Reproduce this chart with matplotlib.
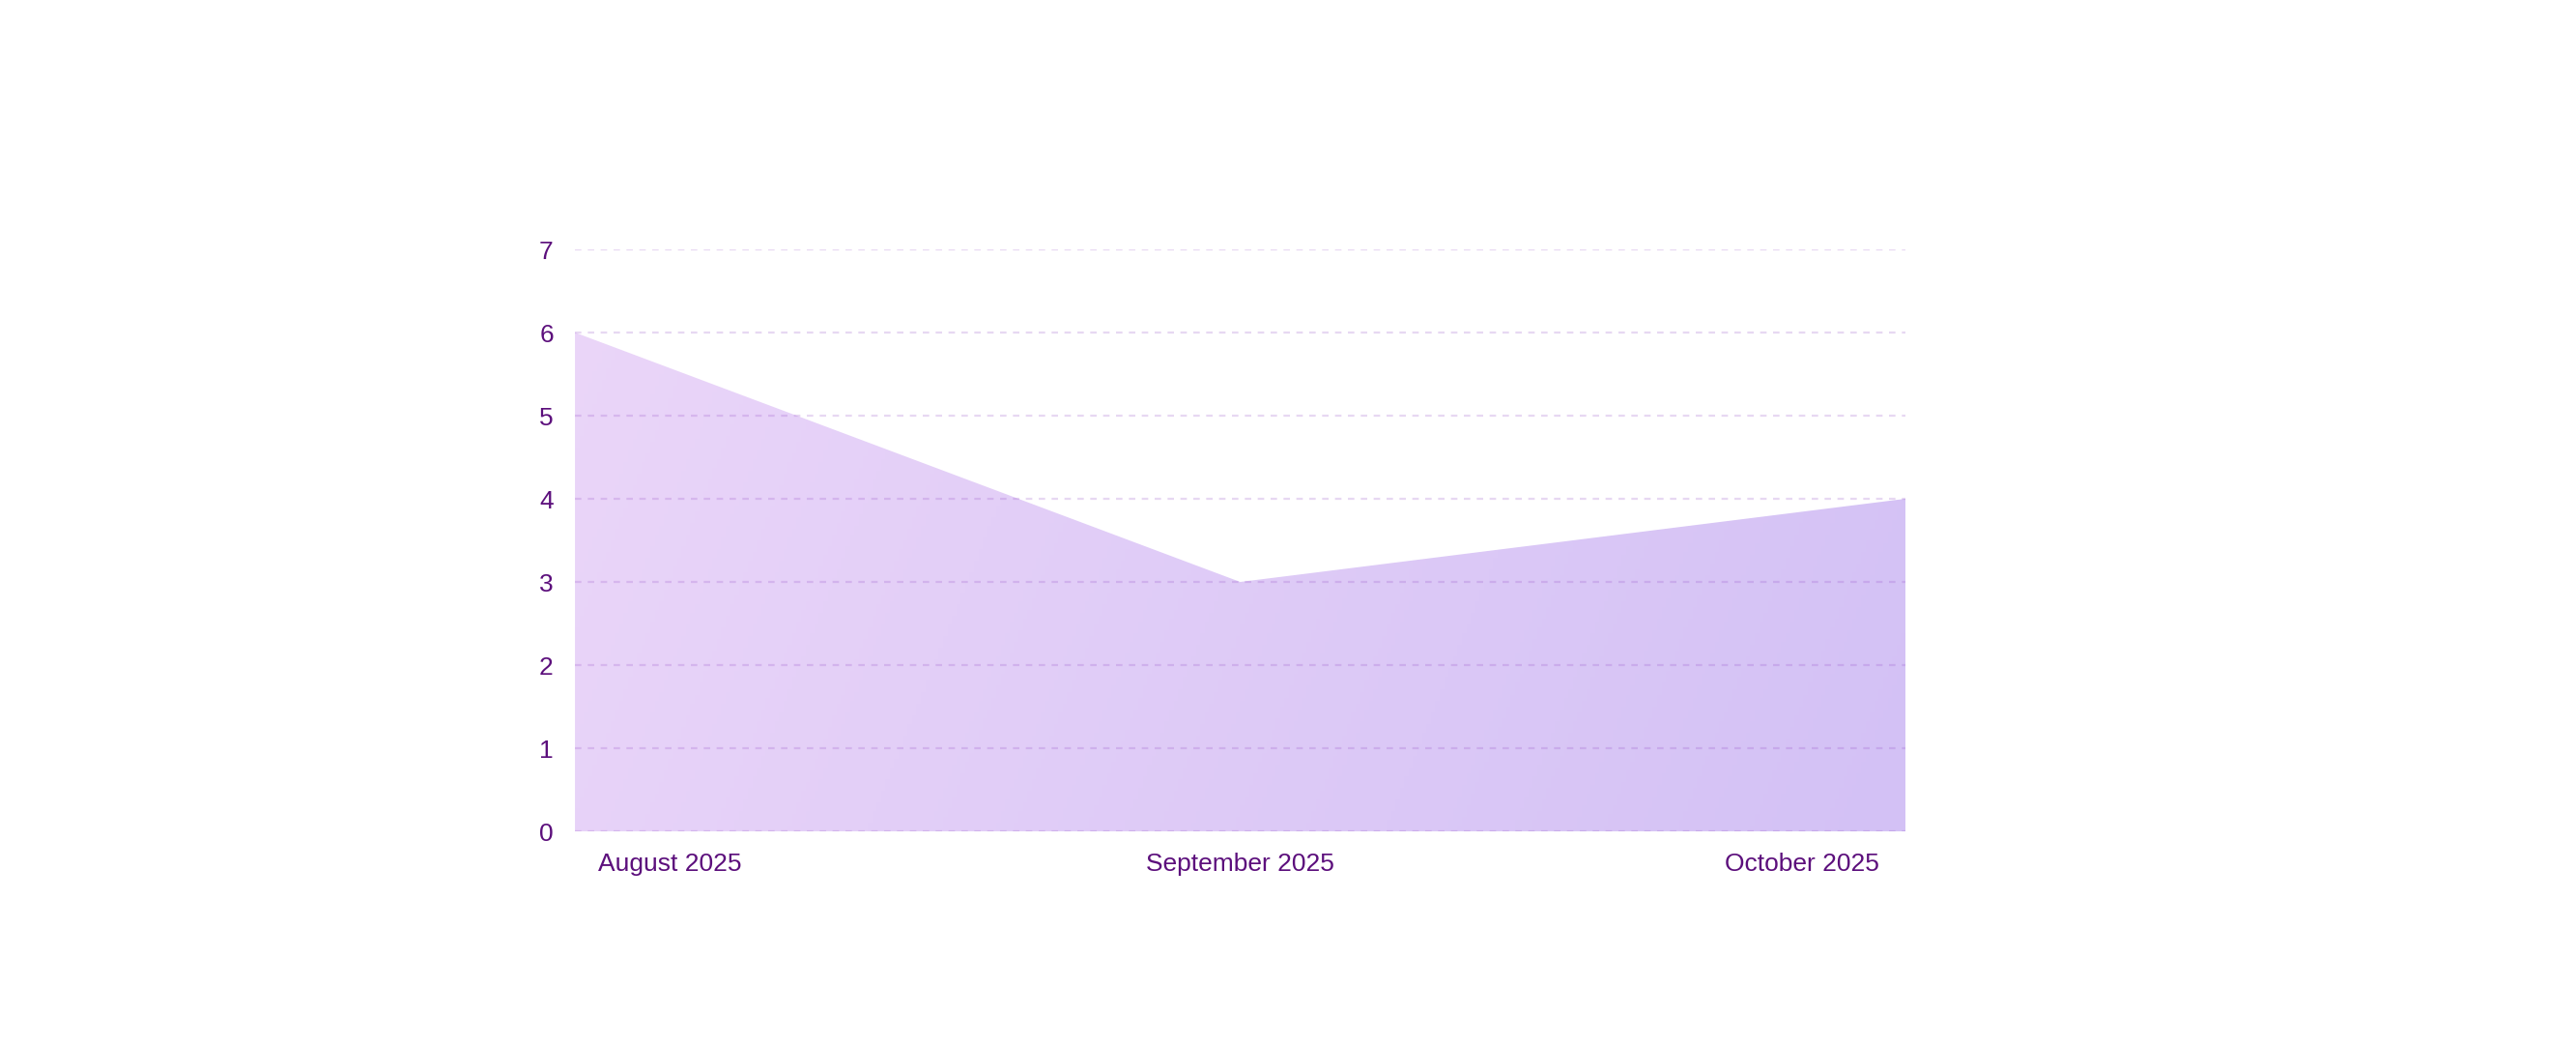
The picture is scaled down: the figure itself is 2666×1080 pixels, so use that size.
import numpy as np
import matplotlib.pyplot as plt
from matplotlib.colors import LinearSegmentedColormap
from matplotlib.patches import Polygon
import matplotlib.transforms as mtransforms

plt.rcParams['font.family'] = ['Liberation Sans', 'DejaVu Sans']

months = ['August 2025', 'September 2025', 'October 2025']
values = [6, 3, 4]
yticks = [0, 1, 2, 3, 4, 5, 6, 7]

text_color = '#5c0f7c'
grad = LinearSegmentedColormap.from_list('g', ['#ebd6f9', '#d3c1f5'])

fig = plt.figure(figsize=(26.66, 10.8), dpi=100)
ax = fig.add_axes([0.2232, 0.2037, 0.5165, 0.5574])

x = np.arange(len(months))
ax.set_xlim(0, len(months) - 1)
ax.set_ylim(0, 7)

# gradient fill under the line (diagonal, light pink -> lavender)
gx, gy = np.meshgrid(np.linspace(0, 1, 300), np.linspace(0, 1, 200))
g = 0.85 * gx + 0.15 * gy
img = ax.imshow(g, cmap=grad, extent=[0, len(months) - 1, 0, 7],
                origin='upper', aspect='auto', zorder=1, vmin=0, vmax=1)
verts = [(x[0], 0)] + list(zip(x, values)) + [(x[-1], 0)]
poly = Polygon(verts, closed=True, facecolor='none', edgecolor='none')
ax.add_patch(poly)
img.set_clip_path(poly)

for y in yticks:
    ax.axhline(y, color=(150/255, 80/255, 200/255), alpha=0.22, lw=1.6,
               linestyle=(0, (3, 3)), zorder=2)

for s in ax.spines.values():
    s.set_visible(False)

ax.set_yticks(yticks)
ax.set_yticklabels([str(v) for v in yticks])
ax.set_xticks(x)
ax.set_xticklabels(months)
ax.tick_params(axis='both', length=0, labelsize=19, labelcolor=text_color)
ax.tick_params(axis='y', pad=16)
ax.tick_params(axis='x', pad=16)

labels = ax.get_xticklabels()
labels[0].set_ha('left')
labels[0].set_transform(labels[0].get_transform() +
                        mtransforms.ScaledTranslation(0.24, 0, fig.dpi_scale_trans))
labels[-1].set_ha('right')
labels[-1].set_transform(labels[-1].get_transform() +
                         mtransforms.ScaledTranslation(-0.27, 0, fig.dpi_scale_trans))

fig.savefig('out.png', dpi=100, facecolor='white')
